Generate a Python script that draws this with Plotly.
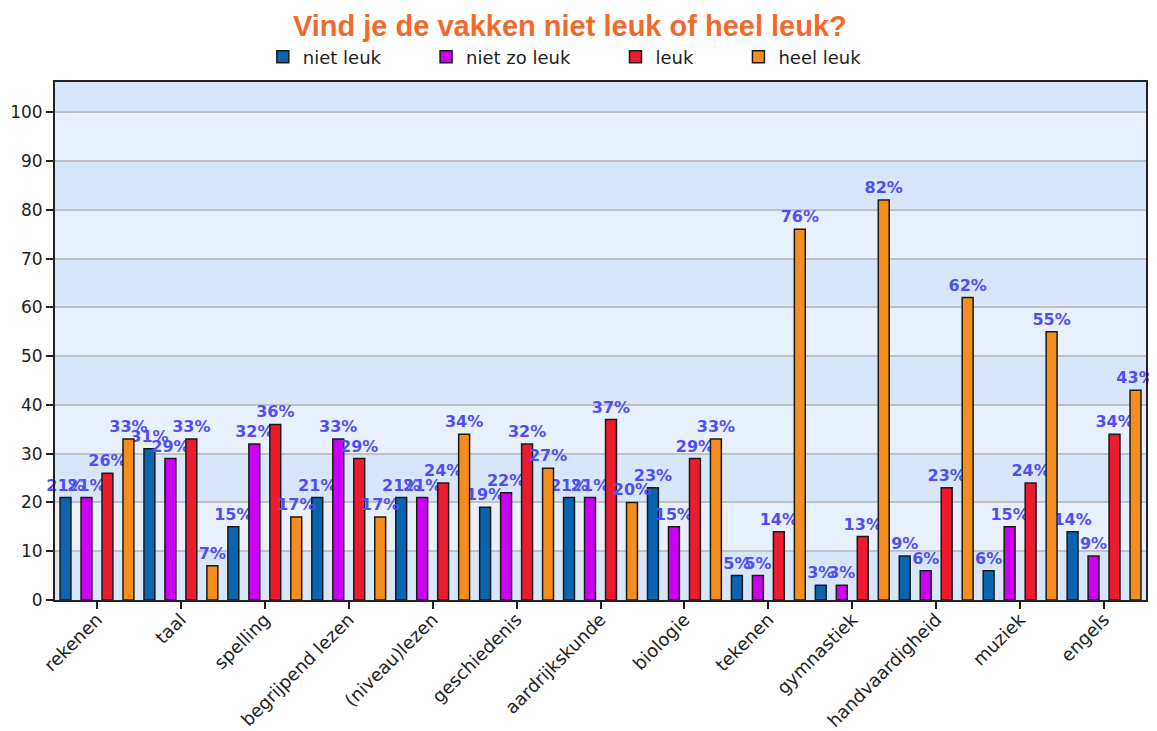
import plotly.graph_objects as go

# vakken en percentages
vakken = ["rekenen", "taal", "spelling", "begrijpend lezen", "(niveau)lezen",
          "geschiedenis", "aardrijkskunde", "biologie", "tekenen", "gymnastiek",
          "handvaardigheid", "muziek", "engels"]
niet_leuk = [21, 31, 15, 21, 21, 19, 21, 23, 5, 3, 9, 6, 14]
niet_zo_leuk = [21, 29, 32, 33, 21, 22, 21, 15, 5, 3, 6, 15, 9]
leuk = [26, 33, 36, 29, 24, 32, 37, 29, 14, 13, 23, 24, 34]
heel_leuk = [33, 7, 17, 17, 34, 27, 20, 33, 76, 82, 62, 55, 43]

series = [
    ("niet leuk", niet_leuk, "#0b64b0"),
    ("niet zo leuk", niet_zo_leuk, "#cc00f5"),
    ("leuk", leuk, "#ec1c2e"),
    ("heel leuk", heel_leuk, "#f58e1e"),
]

NB = "\u00a0"
fig = go.Figure()
for i, (naam, waarden, kleur) in enumerate(series):
    # extra ruimte tussen legenda-items
    label = naam + (NB * 7 if i < len(series) - 1 else "")
    fig.add_trace(go.Bar(
        x=vakken, y=waarden, name=label,
        marker=dict(color=kleur, line=dict(color="#1a1a1a", width=1.5)),
        texttemplate="%{y}%", textposition="outside", cliponaxis=False,
        constraintext="none",
        textfont=dict(family="DejaVu Sans", size=16, color="#5050f2", weight="bold"),
    ))

# afwisselende banden op de achtergrond
shapes = []
for lo in range(10, 100, 20):
    shapes.append(dict(type="rect", xref="x domain", yref="y", x0=0, x1=1,
                       y0=lo, y1=lo + 10, fillcolor="#e8effd", line_width=0, layer="below"))

# de pagina heeft 8px marge rond de figuur
fig.update_layout(
    width=1149, height=723,
    margin=dict(l=47, r=11, t=74, b=131, autoexpand=False),
    paper_bgcolor="white", plot_bgcolor="#d8e6fb",
    barmode="group", bargap=0, bargroupgap=0.48,
    title=dict(text="<b>Vind je de vakken niet leuk of heel leuk?</b>",
               x=0.489, xanchor="center", y=0.976, yanchor="middle",
               font=dict(family="Liberation Sans", size=29, color="#f26a2b")),
    legend=dict(orientation="h", x=0.1905, xanchor="left", y=1.048, yanchor="middle",
                font=dict(family="DejaVu Sans", size=18, color="#222"),
                bgcolor="rgba(0,0,0,0)", itemclick=False),
    shapes=shapes,
    xaxis=dict(range=[-0.5, 12.5], tickangle=-45, ticks="outside", ticklen=7,
               tickcolor="#222", tickwidth=1.5, showline=True, linecolor="#222",
               linewidth=2, mirror=True, showgrid=False, automargin=False,
               ticklabelstandoff=-7,
               tickfont=dict(family="DejaVu Sans", size=18, color="#222")),
    yaxis=dict(range=[0, 106.2], dtick=10, ticks="outside", ticklen=7,
               tickcolor="#222", tickwidth=1.5, showline=True, linecolor="#222",
               linewidth=2, mirror=True, gridcolor="#c2c2c2", gridwidth=1.5,
               zeroline=False, automargin=False,
               tickfont=dict(family="DejaVu Sans", size=17, color="#222")),
    font=dict(family="DejaVu Sans"),
)

fig.write_html("out.html")
